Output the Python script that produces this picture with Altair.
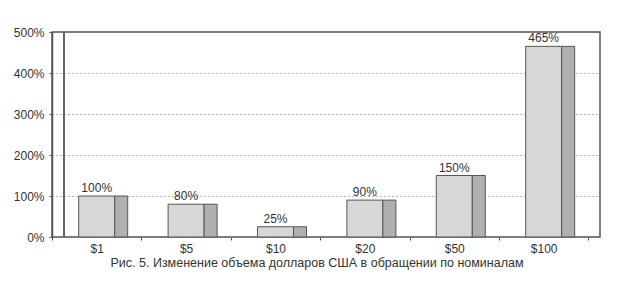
import altair as alt
import pandas as pd

denoms = ["$1", "$5", "$10", "$20", "$50", "$100"]
values = [100, 80, 25, 90, 150, 465]
labels = ["100%", "80%", "25%", "90%", "150%", "465%"]
y_ticks = [0, 100, 200, 300, 400, 500]
caption = "Рис. 5. Изменение объема долларов США в обращении по номиналам"

df = pd.DataFrame({"denom": denoms, "value": values, "label": labels})

FONT = "Liberation Sans"

x_enc = alt.X(
    "denom:N",
    sort=denoms,
    scale=alt.Scale(paddingInner=0, paddingOuter=0.065, align=0),
    axis=alt.Axis(title=None, labelAngle=0, tickBand="extent", tickSize=3,
                  labelPadding=3, tickColor="#555", domain=False),
)
y_enc = alt.Y(
    "value:Q",
    scale=alt.Scale(domain=[0, 500], nice=False),
    axis=alt.Axis(title=None, values=y_ticks, labelExpr="datum.value + '%'",
                  tickSize=3, labelPadding=5, tickColor="#555",
                  domainColor="#555", domainWidth=1.5,
                  grid=True, gridDash=[1, 3], gridColor="#777", gridWidth=1),
)

base = alt.Chart(df)

front = base.mark_bar(width=36, color="#d7d7d7", stroke="#555", strokeWidth=1).encode(
    x=x_enc, y=y_enc
)
side = base.mark_bar(width=13, xOffset=24.5, color="#b0b0b0", stroke="#555",
                     strokeWidth=1).encode(x=x_enc, y=y_enc)
text = base.mark_text(dy=-1, baseline="bottom", fontSize=12, font=FONT,
                      color="#333").encode(x=x_enc, y=y_enc, text="label:N")
wall = base.mark_rule(color="#666", strokeWidth=1.5).encode(
    x=alt.value(12), y=alt.value(0), y2=alt.value(205)
)

chart = (
    alt.layer(wall, front, side, text)
    .properties(
        width=548,
        height=205,
        padding={"left": 52, "top": 32, "right": 29, "bottom": 54},
        autosize=alt.AutoSizeParams(type="none"),
        background="#ffffff",
        title=alt.TitleParams(text=caption, orient="bottom", fontSize=12.5,
                              font=FONT, fontWeight="normal", color="#333",
                              offset=3, dx=-9),
    )
    .configure_view(stroke="#555", strokeWidth=1.5)
    .configure_axis(labelFont=FONT, labelFontSize=12, labelColor="#333")
)

chart.save("out.html", embed_options={"renderer": "svg", "actions": False})
